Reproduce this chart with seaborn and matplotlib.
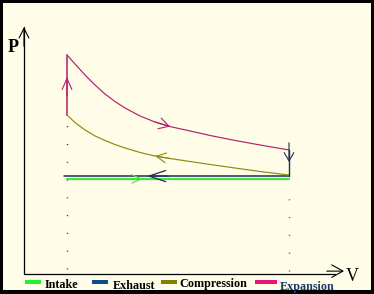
import numpy as np
import pandas as pd
import seaborn as sns
import matplotlib.pyplot as plt
from matplotlib.patches import Rectangle

# ---------------- data ----------------
expansion_V = [1.000, 1.186, 1.419, 1.651, 1.884, 2.116, 2.349, 2.698,
               3.047, 3.395, 3.860, 4.326, 4.907, 5.488, 6.163]
expansion_P = [2.281, 2.188, 2.073, 1.969, 1.875, 1.797, 1.729, 1.646,
               1.583, 1.536, 1.490, 1.443, 1.391, 1.344, 1.292]
compression_V = [6.163, 5.488, 4.907, 4.326, 3.860, 3.395, 3.047, 2.698,
                 2.349, 2.116, 1.884, 1.651, 1.419, 1.186, 1.000]
compression_P = [1.031, 1.068, 1.104, 1.141, 1.172, 1.203, 1.229, 1.266,
                 1.313, 1.349, 1.391, 1.438, 1.500, 1.578, 1.656]
ignition_V = [1.00, 1.00]
ignition_P = [1.656, 2.281]
blowdown_V = [6.163, 6.163]
blowdown_P = [1.292, 1.02]
exhaust_V = [6.163, 0.93]
exhaust_P = [1.02, 1.02]
intake_V = [1.00, 6.163]
intake_P = [0.99, 0.99]
legend_labels = ["Intake", "Exhaust", "Compression", "Expansion"]

# ---------------- colours ----------------
BG = "#FFFDE8"
C_EXP_LINE = "#B0206E"
C_COMP_LINE = "#8E8A10"
C_EXH_LINE = "#1E2E50"
C_INT_LINE = "#44E044"
LEG_COLORS = ["#22EE33", "#0E4C8C", "#848000", "#E8157A"]
LEG_TEXT = ["black", "black", "black", "#1A3A6C"]

sns.set_style("white")
plt.rcParams["font.family"] = ["Liberation Serif", "DejaVu Serif"]

W, H = 374, 294
fig = plt.figure(figsize=(W / 100, H / 100), dpi=100, facecolor="black")
L, T, R, B = 3, 3, 371, 290
ax = fig.add_axes([L / W, (H - B) / H, (R - L) / W, (B - T) / H])
ax.set_facecolor(BG)
for s in ax.spines.values():
    s.set_visible(False)
ax.set_xticks([])
ax.set_yticks([])

OX, OY, SX, SY = 24, 274, 43.0, 96.0
ax.set_xlim((L - OX) / SX, (R - OX) / SX)
ax.set_ylim((OY - B) / SY, (OY - T) / SY)

# ---------------- axes with arrows ----------------
y_top = (OY - 27) / SY
x_right = (344 - OX) / SX
ax.plot([0, 0], [0, y_top], color="black", lw=0.9)
ax.plot([0, x_right - 0.2], [0, 0], color="black", lw=0.9)
ax.annotate("", xy=(0, y_top), xytext=(0, y_top - 0.2),
            arrowprops=dict(arrowstyle="->,head_length=0.7,head_width=0.35",
                            color="black", lw=0.8, shrinkA=0, shrinkB=0))
ax.annotate("", xy=(x_right, 0.03), xytext=(x_right - 0.4, 0.03),
            arrowprops=dict(arrowstyle="->,head_length=0.8,head_width=0.45",
                            color="black", lw=0.8, shrinkA=0, shrinkB=0))

# dotted guides
ax.plot([1.0, 1.0], [0.05, 1.55], color="#333333", lw=1.0,
        linestyle=(0, (0.8, 12)))
ax.plot([6.163, 6.163], [0.03, 0.89], color="#555555", lw=1.0,
        linestyle=(0, (0.8, 12)))

# ---------------- cycle ----------------
def line(V, P, c, lw):
    sns.lineplot(x=V, y=P, sort=False, estimator=None, color=c, lw=lw, ax=ax)

line(intake_V, intake_P, C_INT_LINE, 1.6)
line(exhaust_V, exhaust_P, C_EXH_LINE, 1.1)
line(compression_V, compression_P, C_COMP_LINE, 0.85)
line(ignition_V, ignition_P, C_EXP_LINE, 1.1)
line(expansion_V, expansion_P, C_EXP_LINE, 0.85)
line(blowdown_V, blowdown_P, C_EXH_LINE, 1.0)

def chevron(tip, frm, c, hl, hw, lw=0.8):
    ax.annotate("", xy=tip, xytext=frm,
                arrowprops=dict(arrowstyle=f"->,head_length={hl},head_width={hw}",
                                color=c, lw=lw, shrinkA=0, shrinkB=0))

i = 9
chevron((expansion_V[i], expansion_P[i]), (expansion_V[i - 1], expansion_P[i - 1]),
        C_EXP_LINE, 0.7, 0.4)
i = 6
chevron((compression_V[i], compression_P[i]), (compression_V[i - 1], compression_P[i - 1]),
        C_COMP_LINE, 0.7, 0.35)
chevron(((147 - OX) / SX, exhaust_P[0]), ((147 - OX) / SX + 0.5, exhaust_P[0]),
        C_EXH_LINE, 1.2, 0.4, 0.9)
chevron(((143 - OX) / SX, intake_P[0]), ((143 - OX) / SX - 0.4, intake_P[0]),
        C_INT_LINE, 0.7, 0.3)
chevron((1.0, (OY - 77) / SY), (1.0, (OY - 77) / SY - 0.2), C_EXP_LINE, 0.8, 0.35)
chevron((6.163, (OY - 162) / SY), (6.163, (OY - 162) / SY + 0.2), C_EXH_LINE, 0.6, 0.35)

# ---------------- labels ----------------
fig.text(8 / W, (H - 52) / H, "P", fontsize=13, fontweight="bold", color="black")
fig.text(346 / W, (H - 281) / H, "V", fontsize=13, color="black")

# ---------------- legend (bottom strip) ----------------
patch_x = [25, 92, 161, 255]
patch_w = [16, 16, 16, 22]
text_x = [45, 113, 179, 280]
text_base = [288, 289, 287, 290]
for px, pw, tx, tb, lab, pc, tc in zip(patch_x, patch_w, text_x, text_base,
                                       legend_labels, LEG_COLORS, LEG_TEXT):
    fig.add_artist(Rectangle((px / W, (H - 284) / H), pw / W, 4.5 / H,
                             transform=fig.transFigure, color=pc, lw=0))
    fig.text(tx / W, (H - tb) / H, lab, fontsize=8.7, fontweight="bold",
             color=tc)

fig.savefig("out.png", dpi=100, facecolor=fig.get_facecolor())
